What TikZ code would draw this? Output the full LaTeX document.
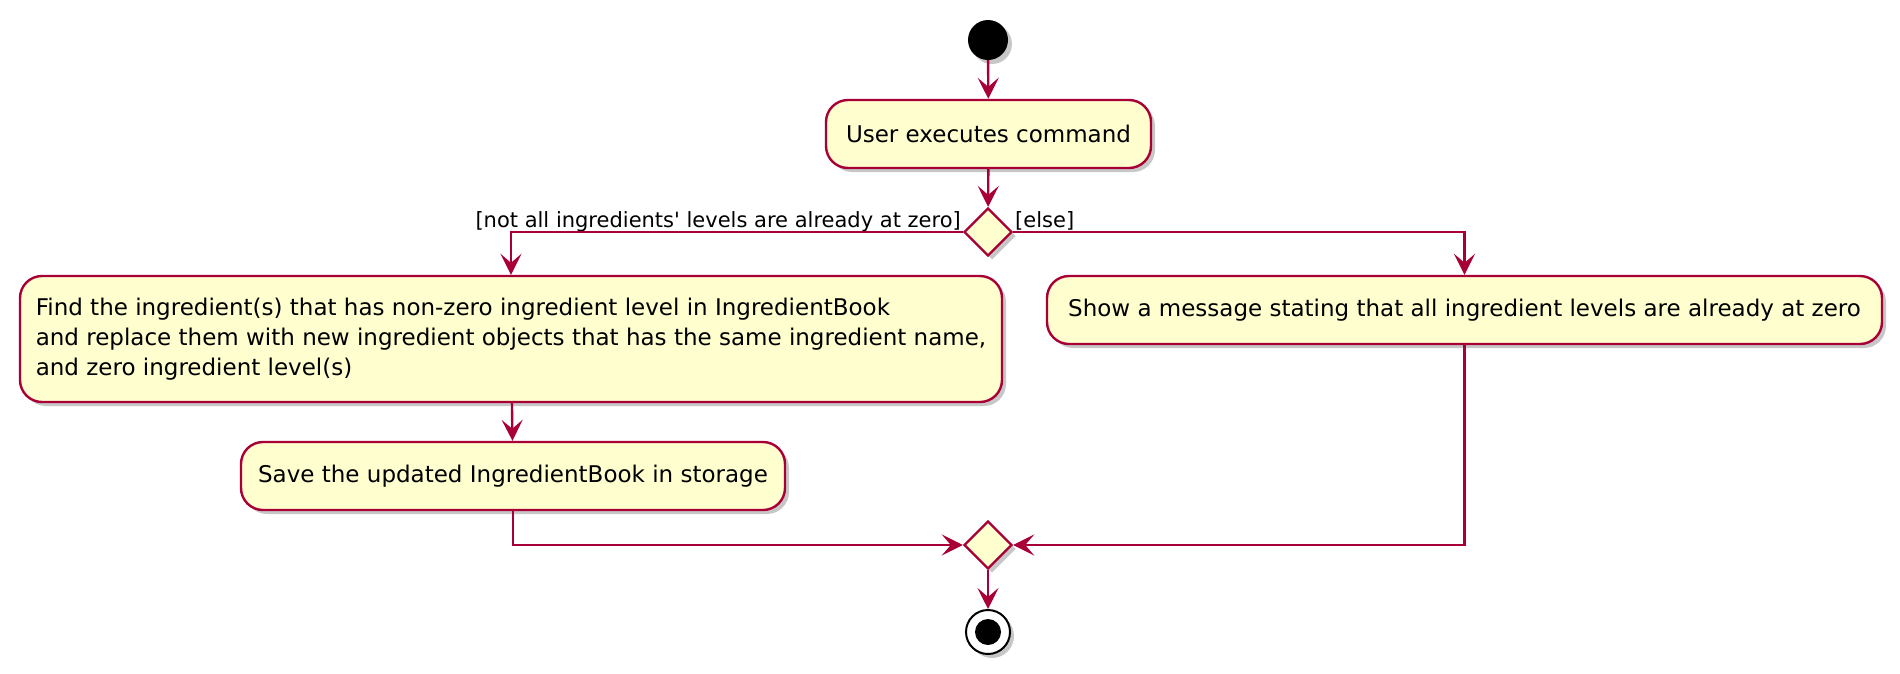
\documentclass[tikz,border=0pt]{standalone}
\usepackage{fontspec}
\setmainfont{DejaVu Sans}
\usetikzlibrary{arrows.meta,shapes.geometric,shadows}
\definecolor{umlred}{HTML}{A80036}
\definecolor{umlfill}{HTML}{FEFECE}
\tikzset{
  shad/.style={drop shadow={shadow xshift=4pt,shadow yshift=-4pt,fill=black,opacity=0.22}},
  actbox/.style={draw=umlred,fill=umlfill,line width=2.4pt,rounded corners=22pt,inner sep=0pt,shad,
     font=\fontsize{23}{30}\selectfont},
  decis/.style={diamond,aspect=1,draw=umlred,fill=umlfill,line width=2.4pt,inner sep=0pt,
     minimum width=48pt,minimum height=48pt,shad},
  flow/.style={draw=umlred,line width=2.4pt,-{Stealth[length=21pt,width=21pt,inset=9pt]}},
  guard/.style={inner sep=0pt,font=\fontsize{21}{24}\selectfont}
}
\begin{document}
\begin{tikzpicture}[x=1pt,y=-1pt]
\useasboundingbox (0,0) rectangle (1900,673);
\node[circle,fill=black,minimum size=40pt,inner sep=0pt,shad] (start) at (988,40) {};
\node[actbox,minimum width=325pt,minimum height=68pt] (cmd) at (988.5,134) {User executes command};
\node[decis] (d1) at (988,232) {};
\node[actbox,minimum width=982pt,minimum height=126pt,align=left] (find) at (511,339)
 {Find the ingredient(s) that has non-zero ingredient level in IngredientBook\\
  and replace them with new ingredient objects that has the same ingredient name,\\
  and zero ingredient level(s)};
\node[actbox,minimum width=835pt,minimum height=68pt] (show) at (1464.5,310)
 {Show a message stating that all ingredient levels are already at zero};
\node[actbox,minimum width=544pt,minimum height=68pt] (save) at (513,476)
 {Save the updated IngredientBook in storage};
\node[decis] (d2) at (988,545) {};
\node[circle,draw=black,line width=2pt,fill=white,minimum size=44pt,inner sep=0pt,shad] (end) at (988,632) {};
\node[circle,fill=black,minimum size=26pt,inner sep=0pt] (endin) at (end.center) {};
\node[guard,anchor=base east] (g1) at (961,227) {[not all ingredients\textquotesingle{} levels are already at zero]};
\node[guard,anchor=base west] (g2) at (1015,227) {[else]};
\draw[flow] (start) -- (cmd);
\draw[flow] (cmd) -- (d1);
\draw[flow] (d1.west) -| (find.north);
\draw[flow] (d1.east) -| (show.north);
\draw[flow] (find) -- (save);
\draw[flow] (save.south) |- (d2.west);
\draw[flow] (show.south) |- (d2.east);
\draw[flow] (d2) -- (end);
\end{tikzpicture}
\end{document}
